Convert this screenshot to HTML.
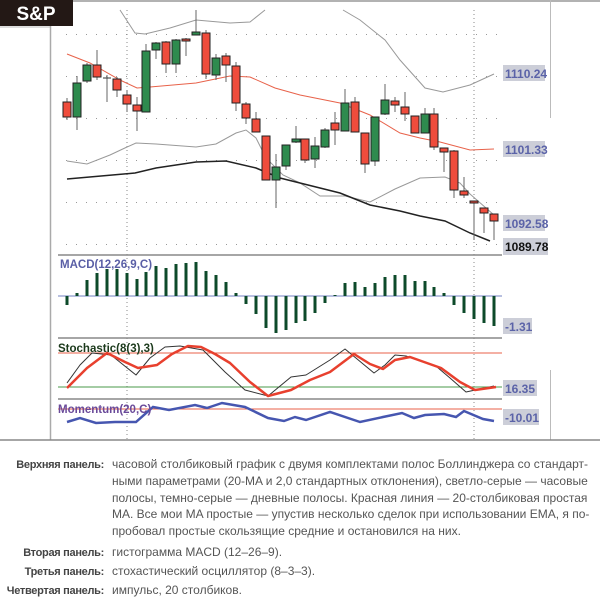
<!DOCTYPE html>
<html><head><meta charset="utf-8"><style>
body{margin:0;width:600px;height:592px;background:#fff;overflow:hidden;font-family:"Liberation Sans",sans-serif;}
.t{position:absolute;font-size:12px;color:#555;line-height:16.8px;white-space:nowrap;}
.l{position:absolute;font-size:11px;font-weight:bold;color:#444;text-align:right;width:104px;left:0;white-space:nowrap;letter-spacing:-0.3px;line-height:16.8px;padding-top:1px;}
</style></head><body>
<svg id="s" width="600" height="445" style="position:absolute;left:0;top:0" xmlns="http://www.w3.org/2000/svg" font-family="Liberation Sans, sans-serif">
<rect x="0" y="0" width="73" height="26" fill="#231815"/>
<text x="36" y="20" font-size="19" font-weight="bold" fill="#fff" text-anchor="middle">S&amp;P</text>
<line x1="73" y1="1" x2="600" y2="1" stroke="#999" stroke-width="1.5"/>
<line x1="0" y1="27" x2="50" y2="27" stroke="#bbb"/>
<line x1="50.5" y1="26" x2="50.5" y2="440" stroke="#aaa" stroke-width="1.5"/>
<line x1="550.5" y1="0" x2="550.5" y2="118" stroke="#bbb"/>
<line x1="550.5" y1="370" x2="550.5" y2="440" stroke="#bbb"/>
<line x1="0" y1="440" x2="600" y2="440" stroke="#888" stroke-width="1.5"/>
<g id="grid"></g>
<line x1="127" y1="10" x2="127" y2="440" stroke="#888" stroke-dasharray="1,3"/>
<line x1="474" y1="10" x2="474" y2="440" stroke="#888" stroke-dasharray="1,3"/>
<line x1="58" y1="255" x2="502" y2="255" stroke="#888" stroke-width="1.5"/>
<line x1="58" y1="338" x2="502" y2="338" stroke="#888" stroke-width="1.5"/>
<line x1="58" y1="399" x2="502" y2="399" stroke="#888" stroke-width="1.5"/>
<polyline fill="none" stroke="#999" points="120,10 135,33 145,34 170,28 196,20 230,23 250,22 265,10"/>
<polyline fill="none" stroke="#999" points="343,10 360,20 385,40 400,60 425,88 443,92 470,85 494,74"/>
<polyline fill="none" stroke="#e8624a" points="67,54 90,63 120,80 137,88 150,87 196,83 230,76 250,77 275,88 300,95 340,103 370,115 400,133 420,138 440,142 470,150 494,149"/>
<polyline fill="none" stroke="#999" points="67,161 87,164 110,155 127,147 136,143 156,144 196,147 216,144 236,133 246,130 256,138 266,158 283,175 300,183 320,196 345,196 370,202 395,189 420,178 445,177 460,183 470,194 478,201 494,215"/>
<polyline fill="none" stroke="#222" stroke-width="1.5" points="67,179 135,173 156,168 196,162 226,161 256,168 280,178 300,183 340,193 370,205 400,211 420,216 445,221 470,233 490,241"/>
<g id="c"></g>
<g font-size="12" font-weight="bold">
<rect x="503" y="65" width="42" height="16" fill="#ccced8"/><text x="505" y="78" fill="#5b63a8">1110.24</text>
<rect x="503" y="141" width="42" height="16" fill="#ccced8"/><text x="505" y="154" fill="#5b63a8">1101.33</text>
<rect x="503" y="215" width="42" height="16" fill="#ccced8"/><text x="505" y="228" fill="#5b63a8">1092.58</text>
<rect x="503" y="238" width="45" height="17" fill="#ccced8"/><text x="505" y="251" fill="#111">1089.78</text>
<rect x="503" y="318" width="29" height="16" fill="#ccced8"/><text x="505" y="331" fill="#5b63a8">-1.31</text>
<rect x="503" y="380" width="34" height="16" fill="#ccced8"/><text x="505" y="393" fill="#5b63a8">16.35</text>
<rect x="503" y="409" width="36" height="16" fill="#ccced8"/><text x="505" y="422" fill="#5b63a8">-10.01</text>
</g>
<line x1="58" y1="296" x2="502" y2="296" stroke="#7080c0"/>
<g id="m"></g>
<text x="60" y="268" font-size="11.5" font-weight="bold" fill="#5a5fa6">MACD(12,26,9,C)</text>
<line x1="58" y1="353" x2="502" y2="353" stroke="#e8624a"/>
<line x1="58" y1="387" x2="502" y2="387" stroke="#4a9a4a"/>
<polyline fill="none" stroke="#333" stroke-linejoin="round" points="67,383 80,365 92,353 111,355 136,375 150,358 165,347 180,346 203,350 225,372 245,390 268,396 291,377 306,375 330,360 345,349 374,373 385,365 395,355 406,356 437,367 450,378 466,392 494,386"/>
<polyline fill="none" stroke="#e8402e" stroke-width="2.5" stroke-linejoin="round" points="67,388 87,368 107,353 125,362 138,368 157,365 172,354 188,346 201,347 215,354 230,363 250,382 268,396 291,390 310,380 330,372 354,354 370,364 383,369 395,360 410,357 441,368 460,382 475,390 496,387"/>
<text x="58" y="352" font-size="11.5" font-weight="bold" fill="#1c3a1c">Stochastic(8(3),3)</text>
<line x1="58" y1="409" x2="502" y2="409" stroke="#e8624a"/>
<polyline fill="none" stroke="#4656b0" stroke-width="2.5" points="67,422 80,418 96,423 115,422 136,422 153,407 169,410 195,405 207,408 222,403 245,407 268,418 284,421 295,417 306,420 330,412 360,422 383,417 402,413 414,418 425,415 444,414 456,417 464,411 483,419 494,421"/>
<text x="58" y="413" font-size="11.5" font-weight="bold" fill="#6a4a9a">Momentum(20,C)</text>
</svg>
<div class="l" style="top:456px">Верхняя панель:</div>
<div class="t" style="left:112px;top:456px;width:480px">часовой столбиковый график с двумя комплектами полос Боллинджера со стандарт-<br>ными параметрами (20-MA и 2,0 стандартных отклонения), светло-серые — часовые<br>полосы, темно-серые — дневные полосы. Красная линия — 20-столбиковая простая<br>MA. Все мои MA простые — упустив несколько сделок при использовании EMA, я по-<br>пробовал простые скользящие средние и остановился на них.</div>
<div class="l" style="top:544px">Вторая панель:</div>
<div class="t" style="left:112px;top:544px">гистограмма MACD (12–26–9).</div>
<div class="l" style="top:563px">Третья панель:</div>
<div class="t" style="left:112px;top:563px">стохастический осциллятор (8–3–3).</div>
<div class="l" style="top:582px">Четвертая панель:</div>
<div class="t" style="left:112px;top:582px">импульс, 20 столбиков.</div>
<script>
var C=[[67,102,117,98,120,0],[77,83,117,76,130,1],[87,65,81,63,83,1],[97,65,77,50,80,0],[107,78,79,75,102,2],[117,79,90,77,97,0],[127,95,104,90,112,0],[137,105,111,97,131,0],[146,51,112,44,112,1],[156,43,50,42,59,1],[166,42,64,41,73,0],[176,40,64,39,73,1],[186,39,41,38,56,0],[196,32,35,10,35,1],[206,33,74,30,79,0],[216,58,75,54,80,1],[226,56,65,53,82,0],[236,66,103,62,111,0],[246,104,118,102,124,0],[256,119,132,112,132,0],[266,136,180,136,180,0],[276,167,180,154,208,1],[286,145,166,145,170,1],[296,139,142,126,143,1],[305,139,160,139,163,0],[315,146,159,137,168,1],[325,130,147,128,148,1],[335,123,130,112,145,0],[345,103,131,89,131,1],[355,102,132,97,132,0],[365,133,164,133,173,0],[375,117,161,117,166,1],[385,100,114,84,115,1],[395,101,105,97,112,0],[405,107,114,92,121,0],[415,116,133,116,133,0],[425,114,133,108,133,1],[434,114,147,108,150,0],[444,148,152,148,172,0],[454,151,190,150,198,0],[464,191,195,177,198,0],[474,201,203,201,240,0],[484,208,213,208,233,0],[494,214,221,214,240,0]];
var M=[305,293,280,273,269,269,273,279,272,266,268,264,263,262,271,275,282,293,304,314,328,333,330,323,321,313,303,295,283,282,287,283,277,275,275,281,281,287,293,305,313,319,323,326];
var h='';C.forEach(function(c){h+='<line x1="'+c[0]+'" x2="'+c[0]+'" y1="'+c[3]+'" y2="'+c[4]+'" stroke="#666"/>';
if(c[5]==2)h+='<line x1="'+(c[0]-4)+'" x2="'+(c[0]+4)+'" y1="78" y2="78" stroke="#333"/>';
else h+='<rect x="'+(c[0]-4)+'" y="'+c[1]+'" width="8" height="'+Math.max(2,c[2]-c[1])+'" fill="'+(c[5]?'#2e8b4e':'#ef4c3c')+'" stroke="#222"/>';});
document.getElementById('c').innerHTML=h;
var g='';M.forEach(function(v,i){var x=C[i][0];g+='<rect x="'+(x-1.5)+'" y="'+Math.min(v,296)+'" width="3" height="'+Math.max(1,Math.abs(v-296))+'" fill="#0d4a2a"/>';});
document.getElementById('m').innerHTML=g;
var d='';[34,76,118,160,202,244].forEach(function(y){for(var x=66;x<500;x+=10)d+='<rect x="'+x+'" y="'+y+'" width="1" height="1" fill="#999"/>';});
document.getElementById('grid').innerHTML=d;
</script>
</body></html>
